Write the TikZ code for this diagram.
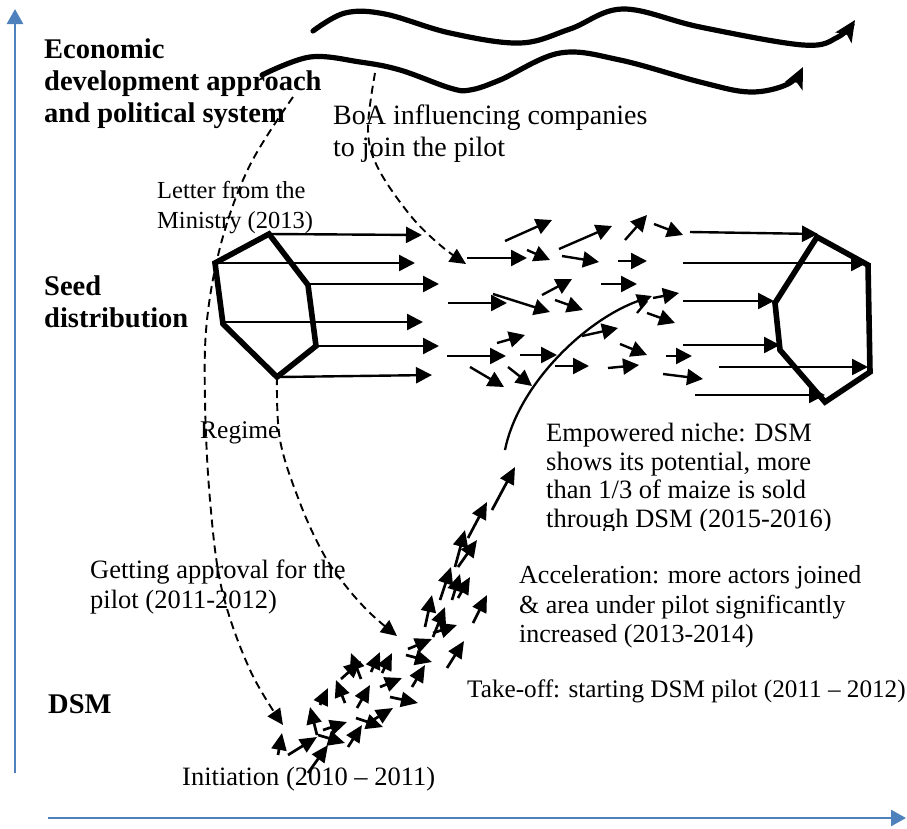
\documentclass[tikz,border=0pt]{standalone}
\usepackage{fontspec}
\setmainfont{Liberation Serif}
\usetikzlibrary{arrows.meta}
\definecolor{axisblue}{RGB}{79,129,189}
\begin{document}
\begin{tikzpicture}[x=1pt,y=-1pt,
  axis/.style={draw=axisblue,line width=2.6pt,-{Triangle[length=15pt,width=16pt]}},
  wave/.style={line width=5.2pt,line cap=round,-{Stealth[length=21pt,width=19pt,inset=5pt]}},
  hexa/.style={line width=5.6pt,line join=miter},
  flow/.style={line width=2.4pt,-{Triangle[length=16pt,width=16pt]}},
  push/.style={line width=2.7pt,-{Triangle[length=17pt,width=15pt]}},
  trail/.style={line width=1.9pt,dash pattern=on 8pt off 5pt,-{Triangle[length=16pt,width=15pt]}},
  niche/.style={line width=2.3pt,-{Triangle[length=15pt,width=14pt]}},
  lbl/.style={inner sep=0pt,anchor=base west},
  head/.style={lbl,font=\fontsize{28.5}{32}\selectfont\bfseries},
  txt/.style={lbl,font=\fontsize{26.5}{30}\selectfont},
  small/.style={lbl,font=\fontsize{24.5}{28}\selectfont}]
\useasboundingbox (0,0) rectangle (907,828);

% axes
\draw[axis] (15,773) -- (15,9);
\draw[axis] (48,818) -- (906,818);

% landscape waves
\draw[wave] plot[smooth,tension=0.6] coordinates {(313,31) (345,13) (385,14) (450,33) (520,43) (570,29) (623,9) (700,27) (803,45) (838,37) (855,20)};
\draw[wave] plot[smooth,tension=0.6] coordinates {(262,75) (310,57) (360,62) (400,70) (450,88) (470,90) (500,80) (560,53) (620,60) (700,82) (750,92) (788,84) (803,67)};

% regime hexagons
\draw[hexa] (215,263) -- (269,234) -- (308,285) -- (316,346) -- (277,377) -- (223,324) -- cycle;
\draw[hexa] (817,237) -- (868,265) -- (870,372) -- (825,402) -- (780,350) -- (775,303) -- cycle;

% seed distribution flows
\foreach \a/\b/\c/\d in {
  269/234/422/235, 215/263/415/263, 308/284/439/284, 223/322/423/322,
  316/346/439/346, 280/377/432/375,
  467/258/527/258, 448/303/507/303, 447/356/506/356, 497/343/525/335,
  470/367/504/387, 508/367/532/386, 493/294/550/312, 505/241/552/220,
  527/250/550/260, 559/249/612/226, 562/256/599/262, 618/261/647/261,
  625/240/647/215, 654/224/683/235, 690/232/818/234, 683/263/867/263,
  542/295/572/279, 601/284/637/284, 555/300/583/310, 653/298/679/293,
  647/313/675/323, 683/301/774/301, 582/336/618/328, 620/344/647/355,
  520/355/557/355, 555/366/589/366, 608/368/639/365, 666/356/692/356,
  683/345/780/345, 663/374/703/379, 719/367/868/367, 695/395/825/395}
  \draw[flow] (\a,\b) -- (\c,\d);

% niche growth curve
\draw[niche] (505,450) .. controls (518,385) and (585,320) .. (652,296);
\draw[line width=2.3pt] (637,313) -- (647,301);

% DSM niche arrows
\foreach \a/\b/\c/\d in {
  278/755/282/733, 288/755/317/737, 308/773/328/745, 317/735/310/707,
  323/730/347/722, 318/735/345/743, 348/747/362/725, 356/718/383/727,
  368/723/393/708, 390/697/418/703, 357/708/370/685, 345/703/336/680,
  320/705/328/688, 380/687/402/678, 341/679/361/661, 361/679/351/653,
  371/672/380/652, 382/673/392/653, 412/687/425/665, 406/655/432/662,
  408/649/432/639, 433/633/457/625, 447/668/464/641, 425/627/432/595,
  433/637/445/607, 473/623/487/595, 440/600/451/567, 452/600/460/574,
  458/598/470/577, 455/567/465/530, 458/567/477/540, 468/538/487/502,
  492/510/515/467}
  \draw[push] (\a,\b) -- (\c,\d);

% dashed influence paths
\draw[trail] plot[smooth,tension=0.6] coordinates {(293,97) (250,165) (222,240) (207,320) (205,400) (210,500) (222,590) (250,670) (283,725)};
\draw[trail] plot[smooth,tension=0.6] coordinates {(375,73) (368,130) (378,168) (410,215) (440,245) (466,264)};
\draw[trail] plot[smooth,tension=0.6] coordinates {(277,377) (280,440) (300,503) (323,553) (345,585) (370,613) (397,636)};

% level labels
\node[head] (econ1) at (44,58) {Economic};
\node[head] (econ2) at (44,90) {development approach};
\node[head] (econ3) at (44,122) {and political system};
\node[head] (seed1) at (44,295) {Seed};
\node[head] (seed2) at (44,327) {distribution};
\node[head] (dsm) at (48,713) {DSM};

% event labels
\node[txt,font=\fontsize{28}{32}\selectfont] (boa1) at (333,124) {BoA influencing companies};
\node[txt,font=\fontsize{28}{32}\selectfont] (boa2) at (333,156) {to join the pilot};
\node[small] (let1) at (157,198) {Letter from the};
\node[small] (let2) at (157,228) {Ministry (2013)};
\node[small,font=\fontsize{25.5}{28}\selectfont] (regime) at (200,438) {Regime};
\node[txt] (app1) at (90,578) {Getting approval for the};
\node[txt] (app2) at (90,608) {pilot (2011-2012)};
\node[txt] (init) at (182,785) {Initiation (2010 – 2011)};
\node[txt,font=\fontsize{25.2}{30}\selectfont] (take) at (467,697) {Take-off: starting DSM pilot (2011 – 2012)};
\node[txt,font=\fontsize{26}{30}\selectfont] (acc1) at (519,583) {Acceleration: more actors joined};
\node[txt,font=\fontsize{26}{30}\selectfont] (acc2) at (519,613) {\& area under pilot significantly};
\node[txt,font=\fontsize{26}{30}\selectfont] (acc3) at (519,642) {increased (2013-2014)};
\node[txt] (emp1) at (546,441) {Empowered niche: DSM};
\node[txt] (emp2) at (546,470) {shows its potential, more};
\node[txt] (emp3) at (546,498) {than 1/3 of maize is sold};
\begin{scope}
  \clip (540,500) rectangle (840,530);
  \node[txt] (emp4) at (546,527) {through DSM (2015-2016)};
\end{scope}
\end{tikzpicture}
\end{document}
